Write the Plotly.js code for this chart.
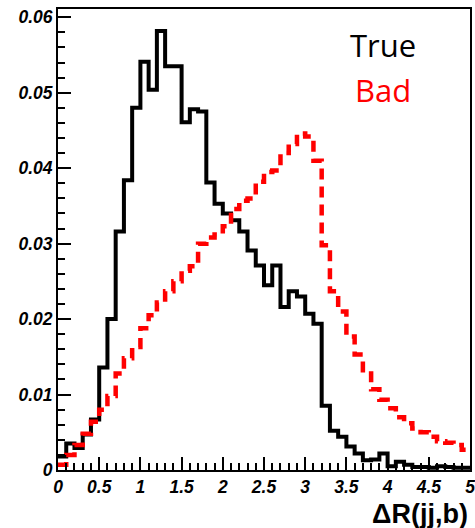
<!DOCTYPE html>
<html><head><meta charset="utf-8">
<script src="https://cdn.plot.ly/plotly-3.0.1.min.js"></script>
<style>html,body{margin:0;padding:0;background:#fff}#chart{width:475px;height:528px}</style>
</head><body><div id="chart"></div>
<script>
const binEdges = [0,0.1,0.2,0.3,0.4,0.5,0.6,0.7,0.8,0.9,1.0,1.1,1.2,1.3,1.4,1.5,1.6,1.7,1.8,1.9,2.0,2.1,2.2,2.3,2.4,2.5,2.6,2.7,2.8,2.9,3.0,3.1,3.2,3.3,3.4,3.5,3.6,3.7,3.8,3.9,4.0,4.1,4.2,4.3,4.4,4.5,4.6,4.7,4.8,4.9,5.0];
const trueValues = [0.0018,0.0035,0.0029,0.0047,0.0067,0.0136,0.0200,0.0316,0.0384,0.0480,
  0.0541,0.0504,0.0582,0.0535,0.0535,0.0461,0.0478,0.0475,0.0381,0.0353,
  0.0340,0.0331,0.0316,0.0291,0.0271,0.0245,0.0271,0.0216,0.0237,0.0230,
  0.0207,0.0194,0.0085,0.0052,0.0044,0.0031,0.0022,0.0013,0.0014,0.0022,
  0.0005,0.0011,0.0007,0.0004,0.0004,0.0003,0.0005,0.0004,0.0003,0.0003];
const badValues = [0.0007,0.0020,0.0033,0.0048,0.0064,0.0080,0.0098,0.0128,0.0148,0.0163,
  0.0188,0.0205,0.0222,0.0237,0.0250,0.0264,0.0270,0.0300,0.0308,0.0312,
  0.0323,0.0346,0.0357,0.0360,0.0382,0.0395,0.0397,0.0420,0.0432,0.0446,
  0.0442,0.0410,0.0298,0.0237,0.0210,0.0177,0.0153,0.0128,0.0107,0.0093,
  0.0082,0.0070,0.0062,0.0055,0.0050,0.0044,0.0038,0.0036,0.0033,0.0027];
const xTickVals = [0,0.5,1,1.5,2,2.5,3,3.5,4,4.5,5];
const xTickText = ['0','0.5','1','1.5','2','2.5','3','3.5','4','4.5','5'];
const yTickVals = [0,0.01,0.02,0.03,0.04,0.05,0.06];
const yTickText = ['0','0.01','0.02','0.03','0.04','0.05','0.06'];
const seriesNames = ['True','Bad'];
const xAxisTitle = 'ΔR(jj,b)';

function stepXY(values){
  const x=[], y=[];
  for(let i=0;i<values.length;i++){ x.push(binEdges[i]); y.push(values[i]); }
  x.push(binEdges[values.length]); y.push(values[values.length-1]);
  return {x, y};
}
const t = stepXY(trueValues), b = stepXY(badValues);
const traces = [
  {x:t.x, y:t.y, type:'scatter', mode:'lines', name:seriesNames[0], line:{shape:'hv', color:'#000000', width:4}},
  {x:b.x, y:b.y, type:'scatter', mode:'lines', name:seriesNames[1], line:{shape:'hv', color:'#ff0000', width:4.5, dash:'11px,7px'}}
];
const tickFont = {family:'Liberation Sans, Arial, sans-serif', size:17.5, color:'#000', weight:'bold', style:'italic'};
const layout = {
  width:475, height:528,
  margin:{l:58, r:5, t:9, b:58},
  paper_bgcolor:'#fff', plot_bgcolor:'#fff',
  showlegend:false,
  xaxis:{range:[0,5], tickvals:xTickVals, ticktext:xTickText, ticks:'inside', ticklen:13, tickwidth:2, tickcolor:'#000',
    minor:{dtick:0.1, tick0:0, ticks:'inside', ticklen:7, tickwidth:2, tickcolor:'#000'},
    ticklabeloverflow:'allow',
    showline:true, linecolor:'#000', linewidth:2, mirror:true, showgrid:false, zeroline:false, tickfont:tickFont},
  yaxis:{range:[0,0.0611], tickvals:yTickVals, ticktext:yTickText, ticks:'inside', ticklen:13, tickwidth:2, tickcolor:'#000',
    minor:{dtick:0.002, tick0:0, ticks:'inside', ticklen:7, tickwidth:2, tickcolor:'#000'},
    ticklabeloverflow:'allow',
    showline:true, linecolor:'#000', linewidth:2, mirror:true, showgrid:false, zeroline:false, tickfont:tickFont},
  annotations:[
    {text:seriesNames[0], xref:'paper', yref:'paper', x:0.79, y:0.922, xanchor:'center', yanchor:'middle', showarrow:false,
      font:{family:'Open Sans, sans-serif', size:31, color:'#000'}},
    {text:seriesNames[1], xref:'paper', yref:'paper', x:0.79, y:0.824, xanchor:'center', yanchor:'middle', showarrow:false,
      font:{family:'Open Sans, sans-serif', size:31, color:'#ff0000'}},
    {text:xAxisTitle, xref:'paper', yref:'paper', x:1.0, y:-0.0965, xanchor:'right', yanchor:'middle', showarrow:false,
      font:{family:'Liberation Sans, Arial, sans-serif', size:27, color:'#000', weight:'bold'}}
  ]
};
Plotly.newPlot('chart', traces, layout, {displayModeBar:false, staticPlot:true});
</script></body></html>
